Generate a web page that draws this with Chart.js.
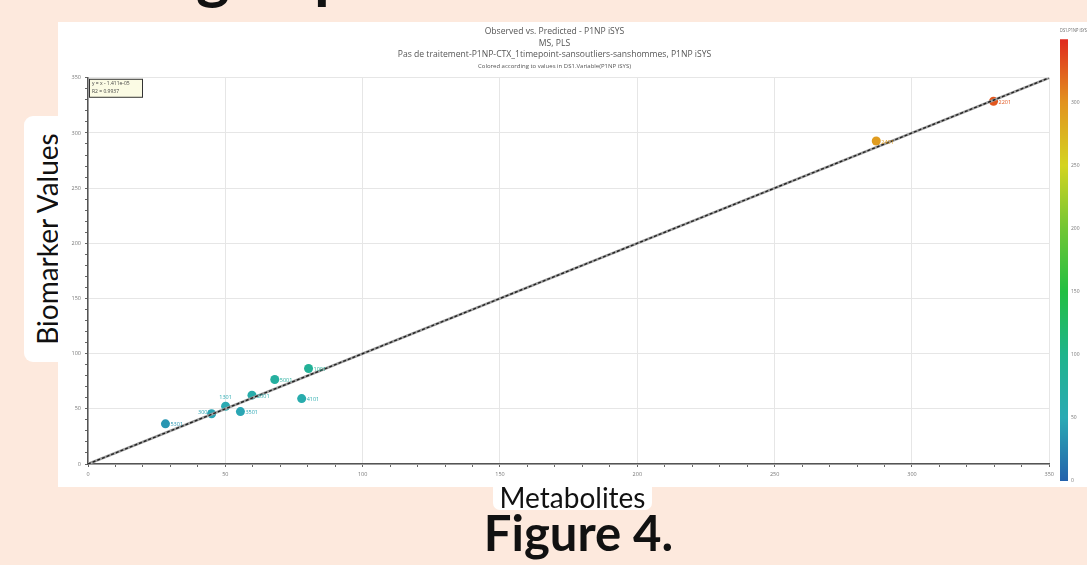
<!DOCTYPE html>
<html>
<head>
<meta charset="utf-8">
<title>Observed vs. Predicted - P1NP iSYS</title>
<style>
  html, body { margin: 0; padding: 0; }
  body {
    width: 1087px; height: 565px; overflow: hidden; position: relative;
    background: #fde9dd; font-family: Lato, "Open Sans", sans-serif; color: #111;
  }
  .cut { position: absolute; top: -59px; font-size: 64px; font-weight: bold; line-height: 64px; }
  .ylab {
    position: absolute; left: 24px; top: 116px; width: 44px; height: 246px;
    background: #fff; border-radius: 9px;
  }
  .ylab span {
    position: absolute; left: 23px; top: 50%; white-space: nowrap;
    transform: translate(-50%, -50%) rotate(-90deg); font-size: 28px;
  }
  .panel { position: absolute; left: 58px; top: 22px; width: 1029px; height: 465px; background: #fff; }
  #chart { position: absolute; left: 58px; top: 22px; }
  #scale { position: absolute; left: 1055px; top: 22px; }
  .xlab {
    position: absolute; left: 493px; top: 482px; width: 159px; height: 28px;
    background: #fff; border-radius: 0 0 7px 7px; text-align: center;
    font-size: 28px; line-height: 30px;
  }
  .fig {
    position: absolute; left: 0; top: 506px; width: 1157px; text-align: center;
    font-weight: bold; font-size: 49px; line-height: 52px;
  }
</style>
</head>
<body>
  <div class="cut" style="left:196px">g</div>
  <div class="cut" style="left:314px">p</div>
  <div class="ylab"><span>Biomarker Values</span></div>
  <div class="panel"></div>
  <canvas id="chart" width="1000" height="465"></canvas>
  <canvas id="scale" width="32" height="465"></canvas>
  <div class="xlab">Metabolites</div>
  <div class="fig">Figure 4.</div>

<script src="https://cdn.jsdelivr.net/npm/chart.js"></script>
<script>
  // observed vs predicted, one entry per sample
  var sampleIds = ['5301', '3001', '1301', '3501', '2001', '5001', '1001', '4101', '2401', '2201'];
  var predicted = [28.2, 45.0, 50.1, 55.5, 59.7, 68.0, 80.3, 77.8, 287.0, 329.7];
  var observed  = [36.4, 45.5, 52.3, 47.5, 62.4, 76.6, 86.5, 59.3, 292.7, 328.7];

  var axisMin = 0, axisMax = 350;
  var majorStep = 50, minorStep = 10;

  var titleLines = [
    'Observed vs. Predicted - P1NP iSYS',
    'MS, PLS',
    'Pas de traitement-P1NP-CTX_1timepoint-sansoutliers-sanshommes, P1NP iSYS'
  ];
  var subtitleText = 'Colored according to values in DS1.Variable(P1NP iSYS)';
  var fitText = ['y = x - 1.411e-05', 'R2 = 0.9937'];

  var colorbarTitle = 'DS1.P1NP iSYS';
  var colorbarMin = 0, colorbarMax = 350;
  var colorbarSteps = [0, 50, 100, 150, 200, 250, 300];
  // value -> colour of the colour scale
  var colorStops = [
    [0, '#2462ac'], [50, '#2aaab4'], [100, '#20b48c'], [150, '#22bf42'],
    [200, '#72c634'], [250, '#d4d420'], [300, '#e2931f'], [350, '#e0291e']
  ];

  var labelSide = { '1301': 'top', '3001': 'left' };
  var fontName = '"Open Sans", sans-serif';

  function hexToRgb(h) {
    return [parseInt(h.substr(1, 2), 16), parseInt(h.substr(3, 2), 16), parseInt(h.substr(5, 2), 16)];
  }
  function colorFor(v) {
    for (var i = 1; i < colorStops.length; i++) {
      if (v <= colorStops[i][0]) {
        var a = colorStops[i - 1], b = colorStops[i];
        var t = (v - a[0]) / (b[0] - a[0]);
        var ca = hexToRgb(a[1]), cb = hexToRgb(b[1]);
        var c = ca.map(function(x, k) { return Math.round(x + (cb[k] - x) * t); });
        return 'rgb(' + c.join(',') + ')';
      }
    }
    return colorStops[colorStops.length - 1][1];
  }

  var points = predicted.map(function(x, i) { return { x: x, y: observed[i] }; });
  var pointColors = observed.map(colorFor);

  var gridColor = function(ctx) {
    return ctx.tick && ctx.tick.value % majorStep === 0 ? '#e6e6e6' : 'rgba(0,0,0,0)';
  };
  var tickLabel = function(v) { return v % majorStep === 0 ? v : ''; };

  var pointLabels = {
    id: 'pointLabels',
    afterDatasetsDraw: function(chart) {
      var meta = chart.getDatasetMeta(2);
      var ctx = chart.ctx;
      ctx.save();
      ctx.font = '5.5px ' + fontName;
      meta.data.forEach(function(pt, i) {
        var side = labelSide[sampleIds[i]] || 'right';
        ctx.fillStyle = pointColors[i];
        ctx.textBaseline = 'middle';
        if (side === 'top') {
          ctx.textAlign = 'center';
          ctx.fillText(sampleIds[i], pt.x, pt.y - 9);
        } else if (side === 'left') {
          ctx.textAlign = 'right';
          ctx.fillText(sampleIds[i], pt.x - 1, pt.y - 1);
        } else {
          ctx.textAlign = 'left';
          ctx.fillText(sampleIds[i], pt.x + 5, pt.y + 1);
        }
      });
      ctx.restore();
    }
  };

  var fitBox = {
    id: 'fitBox',
    afterDraw: function(chart) {
      var a = chart.chartArea, ctx = chart.ctx;
      ctx.save();
      ctx.fillStyle = '#fbfbe4';
      ctx.fillRect(a.left + 1, a.top + 1, 54, 19);
      ctx.strokeStyle = '#333';
      ctx.lineWidth = 1;
      ctx.strokeRect(a.left + 1.5, a.top + 1.5, 53, 18);
      ctx.fillStyle = '#444';
      ctx.font = '5px ' + fontName;
      ctx.textBaseline = 'middle';
      ctx.fillText(fitText[0], a.left + 4, a.top + 6);
      ctx.fillText(fitText[1], a.left + 4, a.top + 14);
      ctx.restore();
    }
  };

  new Chart('chart', {
    type: 'scatter',
    data: {
      datasets: [
        {
          type: 'line', data: [{ x: axisMin, y: axisMin }, { x: axisMax, y: axisMax }],
          borderColor: '#222', borderWidth: 1.4, borderDash: [3, 2], pointRadius: 0, order: 0
        },
        {
          type: 'line', data: [{ x: axisMin, y: axisMin }, { x: axisMax, y: axisMax }],
          borderColor: '#a0a0a0', borderWidth: 2.6, pointRadius: 0, order: 1
        },
        {
          data: points, backgroundColor: pointColors, borderWidth: 0,
          pointRadius: 4.5, order: 2
        }
      ]
    },
    options: {
      responsive: false,
      animation: false,
      devicePixelRatio: 1,
      layout: { padding: { left: 0, right: 7, top: 0, bottom: 0 } },
      plugins: {
        legend: { display: false },
        tooltip: { enabled: false },
        title: {
          display: true, text: titleLines, color: '#555',
          font: { family: fontName, size: 8.6, weight: 'normal', lineHeight: 1.34 },
          padding: { top: 4, bottom: 2 }
        },
        subtitle: {
          display: true, text: subtitleText, color: '#555',
          font: { family: fontName, size: 6, lineHeight: 1.2 },
          padding: { top: 0, bottom: 8 }
        }
      },
      scales: {
        x: {
          type: 'linear', min: axisMin, max: axisMax,
          afterFit: function(s) { s.height = 23; },
          ticks: { stepSize: minorStep, autoSkip: false, callback: tickLabel, color: '#777',
                   font: { family: fontName, size: 5.5 }, padding: 4, maxRotation: 0 },
          grid: { color: gridColor, tickColor: '#666', tickLength: 3, lineWidth: 1 },
          border: { color: '#555', width: 1.5 }
        },
        y: {
          type: 'linear', min: axisMin, max: axisMax,
          afterFit: function(s) { s.width = 30; },
          ticks: { stepSize: minorStep, autoSkip: false, callback: tickLabel, color: '#777',
                   font: { family: fontName, size: 5.5 }, padding: 4 },
          grid: { color: gridColor, tickColor: '#666', tickLength: 3, lineWidth: 1 },
          border: { color: '#555', width: 1.5 }
        }
      }
    },
    plugins: [pointLabels, fitBox]
  });

  // colour scale bar
  new Chart('scale', {
    type: 'bar',
    data: {
      labels: [colorbarTitle],
      datasets: [{
        data: [[colorbarMin, colorbarMax]],
        barPercentage: 1, categoryPercentage: 1, borderWidth: 0,
        backgroundColor: function(c) {
          var a = c.chart.chartArea;
          if (!a) return '#ccc';
          var y = c.chart.scales.y;
          var g = c.chart.ctx.createLinearGradient(0, y.getPixelForValue(colorbarMin), 0, y.getPixelForValue(colorbarMax));
          colorStops.forEach(function(s) {
            g.addColorStop((s[0] - colorbarMin) / (colorbarMax - colorbarMin), s[1]);
          });
          return g;
        }
      }]
    },
    options: {
      responsive: false,
      animation: false,
      devicePixelRatio: 1,
      layout: { padding: { left: 5, right: 0, top: 0, bottom: 2 } },
      plugins: {
        legend: { display: false },
        tooltip: { enabled: false },
        title: {
          display: true, text: colorbarTitle, align: 'start', color: '#666',
          font: { family: fontName, size: 6, weight: 'normal', lineHeight: 1.2 },
          padding: { top: 5, bottom: 5 }
        }
      },
      scales: {
        x: { display: false },
        y: {
          position: 'right', min: colorbarMin, max: colorbarMax,
          afterFit: function(s) { s.width = 19; },
          afterBuildTicks: function(s) { s.ticks = colorbarSteps.map(function(v) { return { value: v }; }); },
          ticks: { color: '#777', font: { family: fontName, size: 5 }, padding: 3 },
          grid: { display: false, drawTicks: false },
          border: { display: false }
        }
      }
    }
  });
</script>
</body>
</html>
